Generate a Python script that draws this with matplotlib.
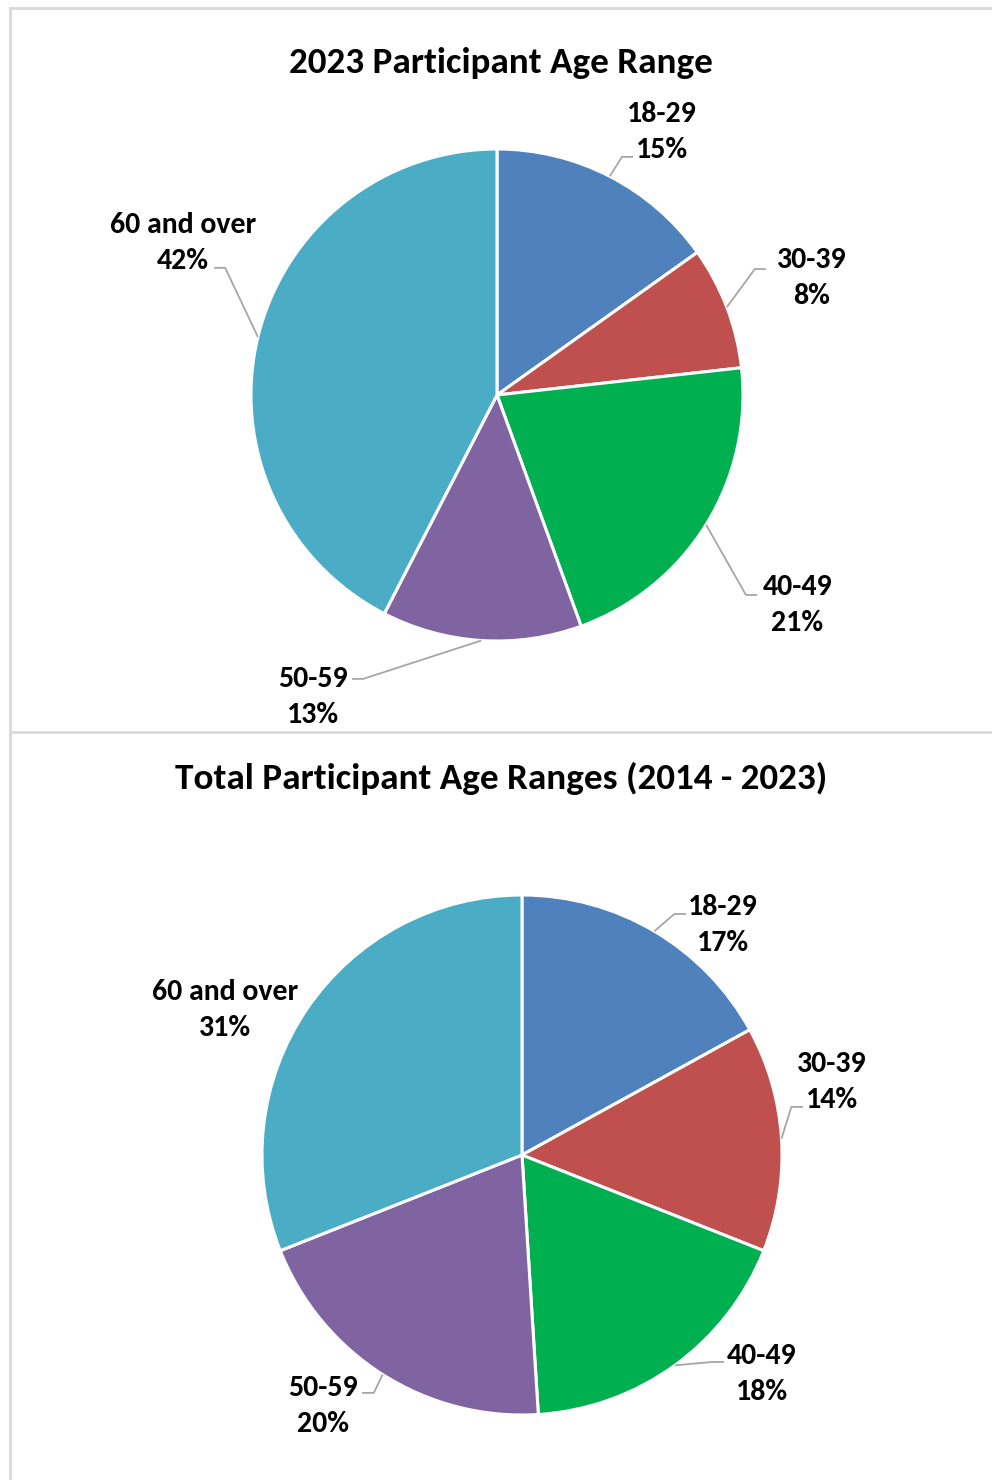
import numpy as np
import matplotlib.pyplot as plt
from matplotlib.lines import Line2D

plt.rcParams['font.family'] = ['Carlito', 'DejaVu Sans']

categories = ['18-29', '30-39', '40-49', '50-59', '60 and over']
colors = ['#4F81BD', '#C0504D', '#00B050', '#8064A2', '#4BACC6']

title_2023 = '2023 Participant Age Range'
pct_2023 = [15, 8, 21, 13, 42]

title_total = 'Total Participant Age Ranges (2014 - 2023)'
pct_total = [17, 14, 18, 20, 31]

W, H = 992, 1480
fig = plt.figure(figsize=(W / 100, H / 100), dpi=100)

# panel layout in pixels: (left, top, right, bottom), pie centre, radius
panels = [
    dict(box=(10, 8, 992, 732), c=(497, 395), r=246, title=title_2023, vals=pct_2023,
         ty=63,
         # label centres and leader anchors in pie-radius units
         lab=[(0.671, 1.069), (1.280, 0.476), (1.220, -0.853), (-0.748, -1.227), (-1.276, 0.618)],
         anc=[(0.553, 0.968), (1.093, 0.512), (1.057, -0.813), (-0.589, -1.154), (-1.150, 0.517)]),
    dict(box=(10, 732, 992, 1480), c=(522, 1155), r=260, title=title_total, vals=pct_total,
         ty=778,
         lab=[(0.773, 0.885), (1.192, 0.281), (0.923, -0.842), (-0.765, -0.965), (-1.142, 0.558)],
         anc=[(0.631, 0.927), (1.081, 0.185), (0.777, -0.796), (-0.615, -0.915), None]),
]

for p in panels:
    l, t, rr, b = p['box']
    cx, cy = p['c']
    r = p['r']
    ax = fig.add_axes([l / W, 1 - b / H, (rr - l) / W, (b - t) / H])
    ax.axis('off')
    wedges, _ = ax.pie(p['vals'], colors=colors, startangle=90, counterclock=False,
                       radius=1, wedgeprops=dict(edgecolor='white', linewidth=2.2))
    ax.set_xlim((l - cx) / r, (rr - cx) / r)
    ax.set_ylim((cy - b) / r, (cy - t) / r)
    ax.set_aspect('auto')
    for w, name, v, (lx, ly), anc in zip(wedges, categories, p['vals'], p['lab'], p['anc']):
        ax.text(lx, ly, f'{name}\n{v}%', ha='center', va='center', fontsize=21.5,
                fontweight='bold', linespacing=1.47, color='black')
        if anc is None:
            continue
        mid = np.deg2rad((w.theta1 + w.theta2) / 2)
        ex, ey = np.cos(mid), np.sin(mid)
        ax_, ay_ = anc
        step = 0.045 if ax_ > ex else -0.045
        ax.plot([ex, ax_ - step, ax_], [ey, ay_, ay_], color='#A6A6A6', lw=1.3,
                solid_capstyle='butt')
    fig.text(0.5 * (l + rr) / W, 1 - p['ty'] / H, p['title'], ha='center', va='center',
             fontsize=26.7, fontweight='bold')

# panel borders
bc = '#D9D9D9'
fig.add_artist(Line2D([10 / W, 1], [1 - 8 / H, 1 - 8 / H], color=bc, lw=2))
fig.add_artist(Line2D([10 / W, 1], [1 - 732 / H, 1 - 732 / H], color=bc, lw=2))
fig.add_artist(Line2D([10 / W, 10 / W], [0, 1 - 8 / H], color=bc, lw=2))

fig.savefig('out.png', dpi=100, facecolor='white')
